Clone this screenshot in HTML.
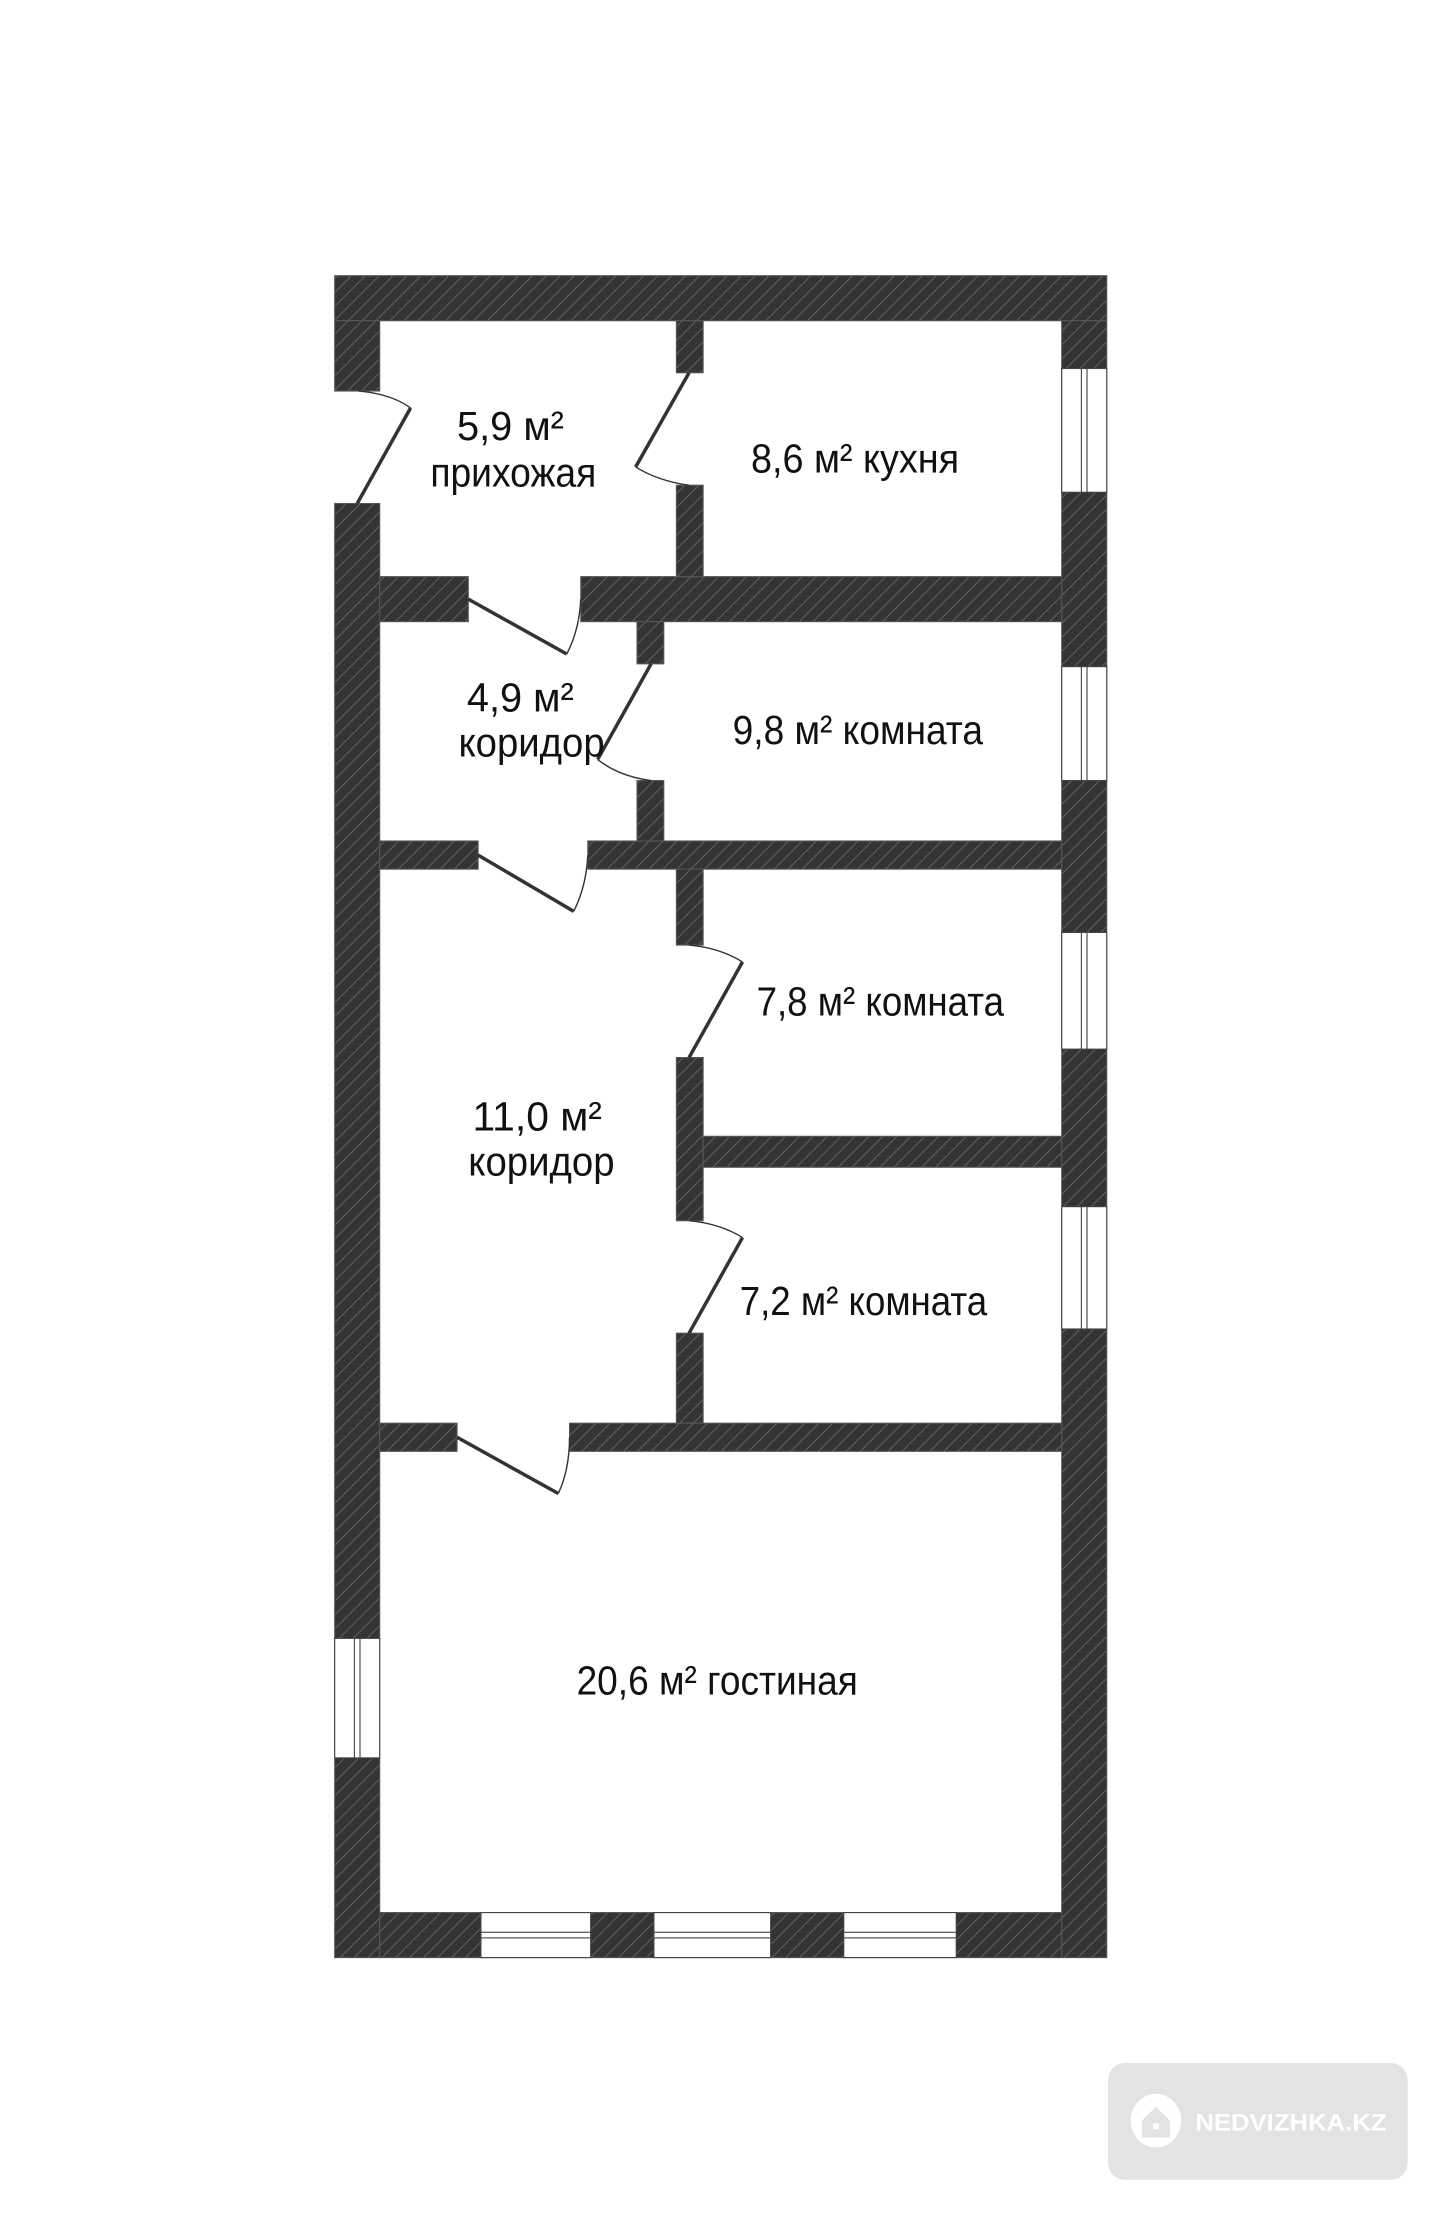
<!DOCTYPE html>
<html><head><meta charset="utf-8"><style>html,body{margin:0;padding:0;background:#fff}svg{display:block}</style></head><body>
<svg width="1440" height="2215" viewBox="0 0 1024 1575" xmlns="http://www.w3.org/2000/svg">
<defs>
<pattern id="h" width="7" height="7" patternUnits="userSpaceOnUse" patternTransform="rotate(45)">
<rect width="7" height="7" fill="#343434"/><line x1="0" y1="0" x2="0" y2="7" stroke="#6a6a6a" stroke-width="1.2"/>
</pattern>
</defs>
<g fill="url(#h)" stroke="#555" stroke-width="0.8">
<rect x="238" y="196" width="549" height="32"/>
<rect x="238" y="228" width="32" height="50"/>
<rect x="238" y="358" width="32" height="1034"/>
<rect x="755" y="228" width="32" height="1164"/>
<rect x="270" y="1360" width="485" height="32"/>
<rect x="270" y="410" width="63" height="32"/>
<rect x="413" y="410" width="342" height="32"/>
<rect x="481" y="228" width="19" height="37"/>
<rect x="481" y="345" width="19" height="65"/>
<rect x="453" y="442" width="19" height="30"/>
<rect x="453" y="555" width="19" height="43"/>
<rect x="270" y="598" width="70" height="20"/>
<rect x="418" y="598" width="337" height="20"/>
<rect x="481" y="618" width="19" height="54"/>
<rect x="481" y="752" width="19" height="116"/>
<rect x="481" y="948" width="19" height="64"/>
<rect x="500" y="808" width="255" height="22"/>
<rect x="270" y="1012" width="55" height="20"/>
<rect x="405" y="1012" width="350" height="20"/>
</g>
<g fill="#fff" stroke="#444" stroke-width="0.8">
<rect x="755" y="262" width="32" height="88"/><rect x="769" y="262" width="4" height="88"/>
<rect x="755" y="474" width="32" height="81"/><rect x="769" y="474" width="4" height="81"/>
<rect x="755" y="663" width="32" height="83"/><rect x="769" y="663" width="4" height="83"/>
<rect x="755" y="858" width="32" height="87"/><rect x="769" y="858" width="4" height="87"/>
<rect x="238" y="1165" width="32" height="85"/><rect x="252" y="1165" width="4" height="85"/>
<rect x="342" y="1360" width="78" height="32"/><rect x="342" y="1374" width="78" height="4"/>
<rect x="465" y="1360" width="83" height="32"/><rect x="465" y="1374" width="83" height="4"/>
<rect x="600" y="1360" width="80" height="32"/><rect x="600" y="1374" width="80" height="4"/>
</g>
<g fill="none" stroke="#333">
<g stroke-width="2.5">
<line x1="254" y1="358" x2="292" y2="290"/>
<line x1="490" y1="265" x2="452" y2="332"/>
<line x1="333" y1="426" x2="403" y2="465"/>
<line x1="463" y1="472" x2="425" y2="540"/>
<line x1="340" y1="608" x2="408" y2="648"/>
<line x1="490" y1="752" x2="528" y2="684"/>
<line x1="490" y1="948" x2="528" y2="880"/>
<line x1="325" y1="1022" x2="397" y2="1062"/>
</g>
<g stroke-width="1">
<path d="M255 278 Q278 280 292 290"/>
<path d="M452 332 Q468 342 490 345"/>
<path d="M403 465 Q412 448 413 426"/>
<path d="M425 540 Q440 552 463 555"/>
<path d="M408 648 Q417 630 418 608"/>
<path d="M528 684 Q512 674 490 672"/>
<path d="M528 880 Q512 870 490 868"/>
<path d="M397 1062 Q405 1045 405 1022"/>
</g>
</g>
<g font-family="Liberation Sans, DejaVu Sans, sans-serif" font-size="29" fill="#111" text-anchor="middle">
<text x="363" y="313" textLength="76" lengthAdjust="spacingAndGlyphs">5,9 м²</text>
<text x="365" y="346" textLength="118" lengthAdjust="spacingAndGlyphs">прихожая</text>
<text x="608" y="336" textLength="148" lengthAdjust="spacingAndGlyphs">8,6 м² кухня</text>
<text x="370" y="506" textLength="76" lengthAdjust="spacingAndGlyphs">4,9 м²</text>
<text x="378" y="538" textLength="104" lengthAdjust="spacingAndGlyphs">коридор</text>
<text x="610" y="529" textLength="178" lengthAdjust="spacingAndGlyphs">9,8 м² комната</text>
<text x="626" y="722" textLength="176" lengthAdjust="spacingAndGlyphs">7,8 м² комната</text>
<text x="382" y="804" textLength="92" lengthAdjust="spacingAndGlyphs">11,0 м²</text>
<text x="385" y="836" textLength="104" lengthAdjust="spacingAndGlyphs">коридор</text>
<text x="614" y="935" textLength="176" lengthAdjust="spacingAndGlyphs">7,2 м² комната</text>
<text x="510" y="1205" textLength="200" lengthAdjust="spacingAndGlyphs">20,6 м² гостиная</text>
</g>
<rect x="788" y="1467" width="213" height="83" rx="12" fill="#e3e3e3"/>
<ellipse cx="822" cy="1508" rx="18" ry="19" fill="#fff"/>
<path d="M812 1508 L822 1498 L832 1508 L832 1520 L812 1520 Z" fill="#e3e3e3"/>
<rect x="820" y="1510" width="4" height="4" fill="#fff"/>
<text x="850" y="1515" font-family="Liberation Sans, sans-serif" font-weight="bold" font-size="17" fill="#fff" textLength="136" lengthAdjust="spacingAndGlyphs">NEDVIZHKA.KZ</text>
</svg>
</body></html>
